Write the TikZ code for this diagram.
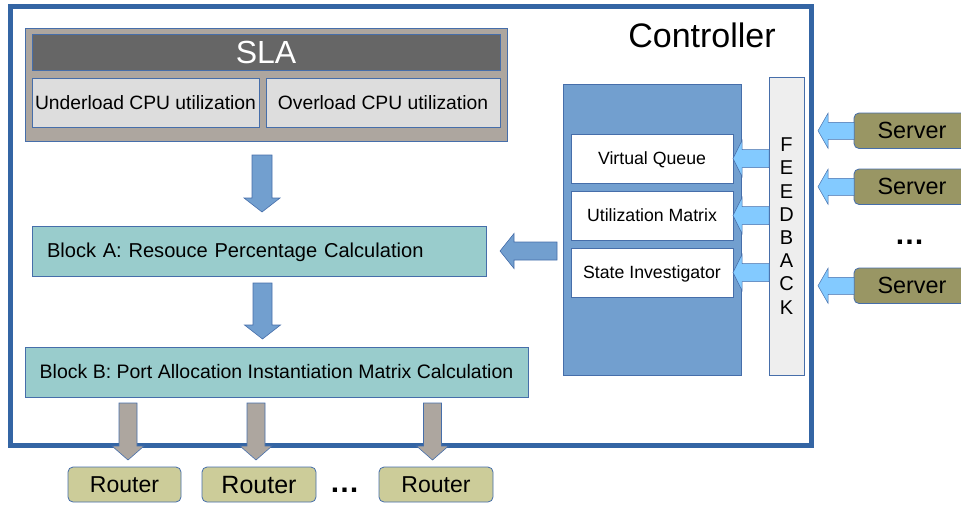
\documentclass[tikz,border=0pt]{standalone}
\usepackage{fontspec}
\setmainfont{Liberation Sans}
\usetikzlibrary{calc}
\definecolor{ctrlblue}{RGB}{52,101,164}
\definecolor{bord}{RGB}{70,110,170}
\definecolor{slagray}{RGB}{173,166,159}
\definecolor{bargray}{RGB}{102,102,102}
\definecolor{lgray}{RGB}{221,221,221}
\definecolor{tealbox}{RGB}{153,204,204}
\definecolor{abl}{RGB}{114,159,207}
\definecolor{fbgray}{RGB}{238,238,238}
\definecolor{lblue}{RGB}{131,202,255}
\definecolor{srvcol}{RGB}{153,150,100}
\definecolor{rtrcol}{RGB}{204,204,153}
\tikzset{
  box/.style={draw=bord, line width=0.8pt, inner sep=0pt, outer sep=0pt, anchor=north west},
  fsize/.style={font=\fontsize{#1}{#1}\selectfont},
  ftext/.style={font=\fontsize{#1}{#1}\selectfont, text height=0.905*#1pt, text depth=0.212*#1pt},
  fatdown/.style args={#1/#2/#3}{to path={($(\tikztostart)+(-#1,0)$) -- ($(\tikztostart)+(#1,0)$) -- ($(\tikztotarget)+(#1,-#3)$) -- ($(\tikztotarget)+(#2,-#3)$) -- (\tikztotarget) -- ($(\tikztotarget)+(-#2,-#3)$) -- ($(\tikztotarget)+(-#1,-#3)$) -- cycle}},
  fatleft/.style args={#1/#2/#3}{to path={($(\tikztostart)+(0,-#1)$) -- ($(\tikztostart)+(0,#1)$) -- ($(\tikztotarget)+(#3,#1)$) -- ($(\tikztotarget)+(#3,#2)$) -- (\tikztotarget) -- ($(\tikztotarget)+(#3,-#2)$) -- ($(\tikztotarget)+(#3,-#1)$) -- cycle}},
  bluearrow/.style={draw=bord, line width=0.6pt, fill=abl},
  lbarrow/.style={draw=bord, line width=0.5pt, fill=lblue},
  grayarrow/.style={draw=bord, line width=0.6pt, fill=slagray},
  srvbox/.style={box, rounded corners=5pt, fill=srvcol, minimum width=116, minimum height=35.5, ftext=23.4},
  rtrbox/.style={box, rounded corners=5pt, fill=rtrcol, minimum height=35, ftext=23},
  panelbox/.style={box, fill=white, minimum width=162, minimum height=49, ftext=17.7},
  dots/.style={font=\fontsize{30}{30}\selectfont\bfseries},
}
\begin{document}
\begin{tikzpicture}[x=1pt, y=-1pt]
\useasboundingbox (0,0) rectangle (961,507);
\clip (0,0) rectangle (961,507);
% controller frame
\node[draw=ctrlblue, line width=5pt, minimum width=801, minimum height=439.5, anchor=north west, inner sep=0pt, outer sep=0pt] (ctrl) at (10.5,6) {};
\node[anchor=base, fsize=34] (ctrllbl) at (702,47) {Controller};
% SLA
\node[box, fill=slagray, minimum width=482, minimum height=113] (sla) at (25,28) {};
\node[box, fill=bargray, minimum width=468, minimum height=36, text=white, ftext=32] (slabar) at (32,34) {SLA};
\node[box, fill=lgray, minimum width=227, minimum height=49, ftext=19.3] (under) at (32,78) {Underload CPU utilization};
\node[box, fill=lgray, minimum width=234, minimum height=49, ftext=19.3] (over) at (266,78) {Overload CPU utilization};
% blocks
\node[box, fill=tealbox, minimum height=50, text width=424pt, inner xsep=15pt, align=left, ftext=20.1] (blkA) at (32,226) {Block A: Resouce Percentage Calculation};
\node[box, fill=tealbox, minimum width=503, minimum height=50, ftext=19.5] (blkB) at (25,347) {Block B: Port Allocation Instantiation Matrix Calculation};
% panel
\node[box, fill=abl, minimum width=178, minimum height=291] (panel) at (563,84) {};
\node[panelbox] (vq) at (571,134) {Virtual Queue};
\node[panelbox] (um) at (571,191) {Utilization Matrix};
\node[panelbox] (si) at (571,248) {State Investigator};
\node[box, fill=fbgray, minimum width=35, minimum height=298, align=center, font=\fontsize{20}{23.2}\selectfont] (fb) at (769,77) {F\\E\\E\\D\\B\\A\\C\\K};
% servers
\node[srvbox] (srv1) at (854,113) {Server};
\node[srvbox] (srv2) at (854,169) {Server};
\node[srvbox] (srv3) at (854,268) {Server};
\node[dots] (sdots) at (909.5,242) {…};
% routers
\node[rtrbox, minimum width=113] (r1) at (68,467) {Router};
\node[rtrbox, minimum width=114, ftext=25] (r2) at (202,467) {Router};
\node[rtrbox, minimum width=114] (r3) at (379,467) {Router};
\node[dots] (rdots) at (344.5,490) {…};
% arrow end points
\coordinate (a1s) at (262,155);
\coordinate (a1e) at (262,212);
\coordinate (a2s) at (262.5,283);
\coordinate (a2e) at (262.5,339);
\coordinate (aLs) at (557,251);
\coordinate (aLe) at (500,251);
\coordinate (f1s) at (fb.west |- vq.east);
\coordinate (f2s) at (fb.west |- um.east);
\coordinate (f3s) at (fb.west |- si.east);
\coordinate (s1e) at ($(srv1.west)+(-36,0)$);
\coordinate (s2e) at ($(srv2.west)+(-36,0)$);
\coordinate (s3e) at ($(srv3.west)+(-36,0)$);
\coordinate (g1s) at (128,403);
\coordinate (g1e) at (128,460);
\coordinate (g2s) at (256,403);
\coordinate (g2e) at (256,460);
\coordinate (g3s) at (432.5,403);
\coordinate (g3e) at (432.5,460);
% arrows
\draw[bluearrow, fatdown=10/18/14] (a1s) to (a1e);
\draw[bluearrow, fatdown=9.5/18/14] (a2s) to (a2e);
\draw[bluearrow, fatleft=9/17.5/14] (aLs) to (aLe);
\draw[lbarrow, fatleft=9/18/9] (f1s) to (vq.east);
\draw[lbarrow, fatleft=9/18/9] (f2s) to (um.east);
\draw[lbarrow, fatleft=9/18/9] (f3s) to (si.east);
\draw[lbarrow, fatleft=8.5/17.5/10] (srv1.west) to (s1e);
\draw[lbarrow, fatleft=8.5/17.5/10] (srv2.west) to (s2e);
\draw[lbarrow, fatleft=8.5/17.5/10] (srv3.west) to (s3e);
\draw[grayarrow, fatdown=9/16/14] (g1s) to (g1e);
\draw[grayarrow, fatdown=9/16/14] (g2s) to (g2e);
\draw[grayarrow, fatdown=9/16/14] (g3s) to (g3e);
\end{tikzpicture}
\end{document}
